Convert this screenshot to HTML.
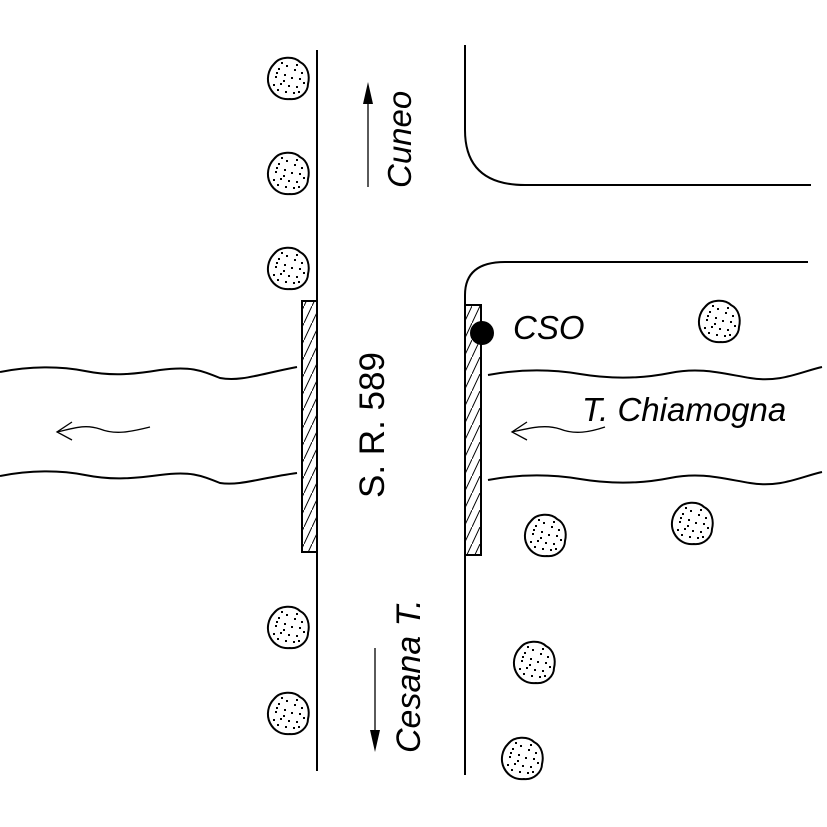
<!DOCTYPE html>
<html><head><meta charset="utf-8"><style>
html,body{margin:0;padding:0;background:#fff;}
svg{display:block;}
text{font-family:"Liberation Sans",sans-serif;font-style:italic;fill:#000;}
</style></head><body>
<svg width="827" height="827" viewBox="0 0 827 827" xmlns="http://www.w3.org/2000/svg">
<defs>
<pattern id="hatch" width="8" height="17" patternUnits="userSpaceOnUse">
<line x1="0" y1="17" x2="8" y2="0" stroke="#000" stroke-width="1"/>
</pattern>
<g id="tree">
<path d="M-14,-14 C-8,-22 6,-22 12,-16 C20,-12 22,-2 20,6 C20,14 12,22 2,21 C-6,22 -14,18 -18,10 C-22,2 -20,-8 -14,-14 Z" fill="#fff" stroke="#000" stroke-width="2"/>
<g fill="#000">
<rect x="-10" y="-10" width="2" height="2"/><rect x="-2" y="-13" width="2" height="2"/><rect x="6" y="-9" width="2" height="2"/>
<rect x="-13" y="-2" width="2" height="2"/><rect x="-4" y="-4" width="2" height="2"/><rect x="3" y="-1" width="2" height="2"/>
<rect x="11" y="0" width="2" height="2"/><rect x="-8" y="5" width="2" height="2"/><rect x="0" y="7" width="2" height="2"/>
<rect x="8" y="8" width="2" height="2"/><rect x="-3" y="13" width="2" height="2"/><rect x="13" y="-6" width="2" height="2"/>
<rect x="-15" y="6" width="2" height="2"/><rect x="5" y="14" width="2" height="2"/><rect x="-7" y="-16" width="2" height="2"/>
<rect x="-12" y="-6" width="2" height="2"/><rect x="8" y="-14" width="2" height="2"/><rect x="15" y="4" width="2" height="2"/>
<rect x="-5" y="2" width="2" height="2"/><rect x="-11" y="11" width="2" height="2"/><rect x="10" y="13" width="2" height="2"/>
</g>
</g>
</defs>
<g fill="none" stroke="#000" stroke-width="2">
<line x1="317" y1="50" x2="317" y2="771"/>
<path d="M465,45 L465,130 Q465,185 525,185 L811,185"/>
<path d="M465,305 L465,295 Q465,262 505,262 L808,262"/>
<line x1="465" y1="555" x2="465" y2="775"/>
<path d="M0,372 C30,366 60,366 85,371 C110,376 130,375 160,370 C190,366 200,370 220,378 C240,382 260,374 297,367"/>
<path d="M0,476 C30,470 60,470 85,475 C110,480 130,479 160,475 C190,471 200,475 220,483 C240,486 260,478 297,473"/>
<path d="M488,375 C520,369 550,369 580,374 C610,379 640,379 670,373 C700,367 720,373 750,378 C780,383 800,372 822,367"/>
<path d="M488,480 C520,474 550,474 580,479 C610,484 640,484 670,478 C700,472 720,478 750,483 C780,488 800,477 822,472"/>
</g>
<g fill="none" stroke="#000" stroke-width="1.3">
<path d="M57,432 C75,428 85,424 100,429 C115,435 130,432 150,427"/>
<path d="M72,422 L57,432 L72,440"/>
<path d="M512,432 C530,428 545,424 560,429 C575,435 590,432 605,427"/>
<path d="M527,422 L512,432 L527,440"/>
<line x1="368" y1="100" x2="368" y2="187"/>
<line x1="375" y1="648" x2="375" y2="735"/>
</g>
<polygon points="368,82 363,104 373,104" fill="#000"/>
<polygon points="375,752 370,730 380,730" fill="#000"/>
<rect x="302" y="301" width="15" height="251" fill="url(#hatch)" stroke="#000" stroke-width="2"/>
<rect x="465" y="305" width="16" height="250" fill="url(#hatch)" stroke="#000" stroke-width="2"/>
<circle cx="482" cy="333" r="12" fill="#000"/>
<use href="#tree" x="288" y="78"/>
<use href="#tree" x="288" y="173"/>
<use href="#tree" x="288" y="268"/>
<use href="#tree" x="288" y="627"/>
<use href="#tree" x="288" y="713"/>
<use href="#tree" x="719" y="321"/>
<use href="#tree" x="545" y="535"/>
<use href="#tree" x="692" y="523"/>
<use href="#tree" x="534" y="662"/>
<use href="#tree" x="522" y="758"/>
<text x="513" y="339" font-size="33">CSO</text>
<text x="582" y="421" font-size="33">T. Chiamogna</text>
<text transform="translate(411,188) rotate(-90)" font-size="33">Cuneo</text>
<text transform="translate(420,753) rotate(-90)" font-size="34">Cesana T.</text>
<text transform="translate(384,498) rotate(-90)" font-size="35" style="font-style:normal">S. R. 589</text>
</svg>
</body></html>
